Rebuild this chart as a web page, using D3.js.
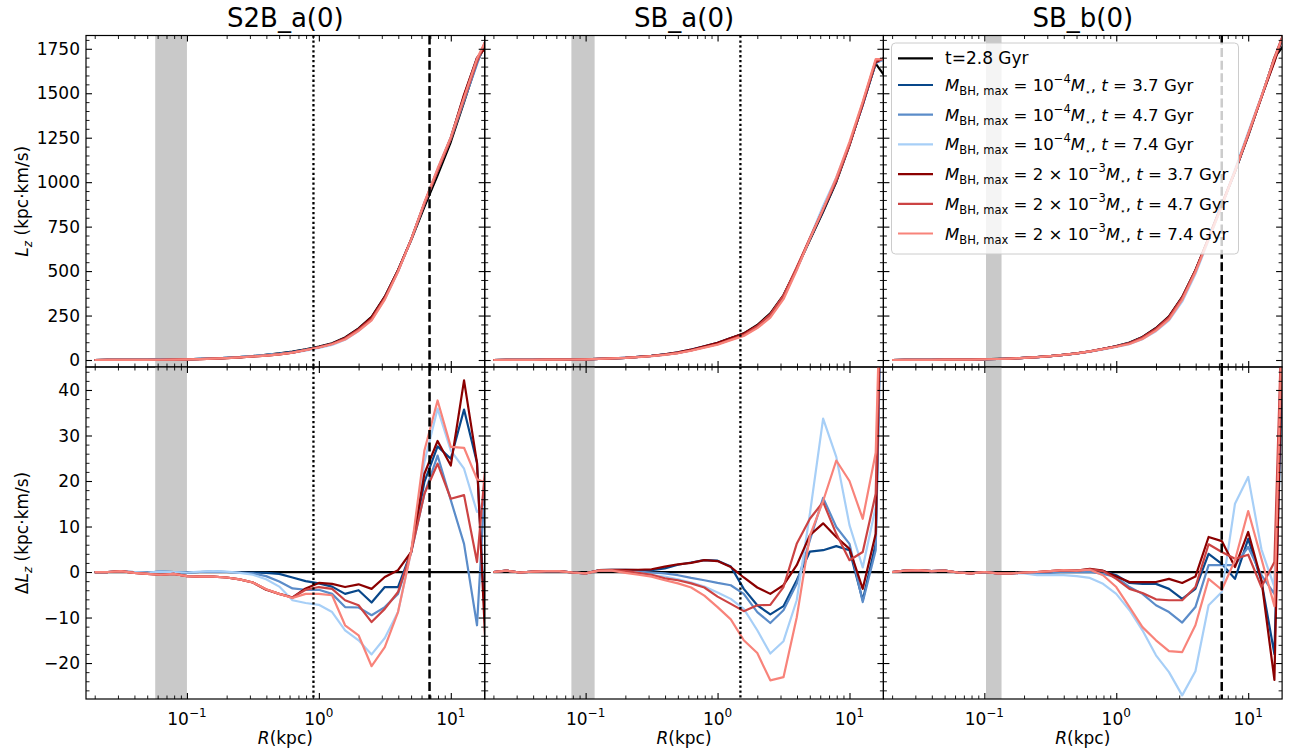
<!DOCTYPE html>
<html><head><meta charset="utf-8">
<script src="https://cdn.jsdelivr.net/npm/d3@7"></script>
<style>
body{margin:0;background:#fff}
text{font-family:"DejaVu Sans",sans-serif;fill:#000}
</style>
</head><body>
<svg id="chart" width="1296" height="751"></svg>
<script>
// ---------------- data ----------------
const radiusKpc = [0.02, 0.0251, 0.0316, 0.0398, 0.0501, 0.0631, 0.0794, 0.1, 0.126, 0.158, 0.2, 0.251, 0.316, 0.398, 0.501, 0.631, 0.794, 1.0, 1.26, 1.58, 2.0, 2.51, 3.16, 3.98, 5.01, 6.31, 7.94, 10.0, 12.6, 15.8, 20.0];

const panelTitles = ["S2B_a(0)", "SB_a(0)", "SB_b(0)"];
const baseLabel = "t=2.8 Gyr";
const seriesMassCoef = ["", "", "", "2 × ", "2 × ", "2 × "];
const seriesMassExp = ["−4", "−4", "−4", "−3", "−3", "−3"];
const seriesTime = ["3.7", "4.7", "7.4", "3.7", "4.7", "7.4"];
const seriesColors = ["#08478a", "#5b8cc9", "#a7cff7", "#8b0000", "#cc4343", "#f8837a"];
const baseColor = "#000000";

// L_z of the reference snapshot (t = 2.8 Gyr), kpc km/s
const lzBase_S2Ba = [0.2, 0.4, 0.6, 1.0, 1.5, 2.2, 3.0, 4.2, 6, 8.5, 12, 16, 22, 29, 37, 47, 60, 75, 94, 127, 178, 243, 356, 505, 674, 861, 1039, 1226, 1450, 1675, 1830];
const lzBase_SBa  = [0.2, 0.4, 0.6, 1.0, 1.5, 2.2, 3.0, 4.2, 6, 8.5, 12, 17, 23, 31, 41, 56, 75, 94, 122, 150, 197, 262, 365, 515, 674, 833, 1001, 1207, 1441, 1666, 1562];
const lzBase_SBb  = [0.2, 0.4, 0.6, 1.0, 1.5, 2.2, 3.0, 4.2, 6, 8.5, 12, 16, 22, 29, 37, 48, 62, 78, 98, 130, 180, 245, 355, 505, 680, 870, 1060, 1260, 1480, 1700, 1800];

// Delta L_z relative to t = 2.8 Gyr
const dLz_S2Ba_b37 = [0, 0, 0.1, 0, -0.1, 0.1, 0, -0.1, 0, 0.1, 0, -0.1, -0.1, -0.2, -0.4, -1.2, -2.0, -2.5, -3.2, -4.8, -4.0, -6.7, -3.3, -3.3, 4.5, 19.8, 27.6, 24.9, 35.7, 24.0, -35];
const dLz_S2Ba_b47 = [0, 0, 0.1, 0, -0.1, 0.1, 0, -0.1, 0, 0.1, 0, -0.1, -0.3, -0.9, -2.1, -3.6, -3.9, -3.9, -4.8, -7.7, -7.8, -9.5, -7.7, -4.8, 4.3, 17.2, 25.6, 15.8, 6.2, -11.7, 41];
const dLz_S2Ba_b74 = [0, 0, 0.1, 0, -0.1, 0.1, 0, -0.1, 0.1, 0.2, 0.1, -0.2, -0.6, -1.6, -3.2, -6.2, -6.8, -7.2, -8.8, -12.8, -15.0, -18.1, -14.5, -8.8, 4.5, 24.2, 35.9, 26.7, 22.7, 13.2, 15.4];
const dLz_S2Ba_r37 = [0, 0, 0.2, -0.2, -0.4, -0.6, -0.4, -0.9, -1.0, -1.0, -1.2, -1.6, -2.3, -3.9, -4.8, -5.6, -3.6, -2.4, -2.6, -3.3, -2.7, -3.7, -1.1, 0.4, 4.4, 21.6, 28.8, 23.4, 42.1, 24.0, -40];
const dLz_S2Ba_r47 = [0, 0, 0.2, -0.2, -0.4, -0.6, -0.4, -0.9, -1.0, -1.0, -1.2, -1.6, -2.3, -3.8, -4.8, -5.6, -3.9, -3.3, -3.7, -6.2, -7.3, -11.0, -8.1, -4.4, 4.4, 17.2, 23.8, 16.1, 16.9, 2.2, 36];
const dLz_S2Ba_r74 = [0, 0, 0.2, -0.2, -0.4, -0.6, -0.4, -0.9, -1.0, -1.0, -1.2, -1.6, -2.3, -3.8, -4.8, -5.7, -4.8, -4.8, -5.1, -11.7, -13.9, -20.7, -16.5, -8.8, 4.6, 26.7, 37.7, 27.5, 27.3, 20.4, 19.2];

const dLz_SBa_b37 = [0, 0.3, -0.1, 0.1, 0.2, 0.2, -0.1, -0.3, 0.4, 0.5, 0.5, 0.4, 0.4, 0.8, 1.6, 2.1, 2.6, 2.5, 1.2, -3.7, -7.3, -9.3, -7.5, -1.8, 4.5, 4.8, 5.7, 4.8, -6.2, 6.2, 150];
const dLz_SBa_b47 = [0, 0.3, -0.1, 0.1, 0.2, 0.2, -0.1, -0.3, 0.3, 0.4, 0.3, 0.1, -0.1, -0.3, -0.7, -1.3, -1.8, -2.4, -2.9, -4.8, -8.8, -11.2, -8.4, -2.6, 7.0, 16.3, 9.9, 6.2, -6.6, 4.8, 140];
const dLz_SBa_b74 = [0, 0.3, -0.1, 0.1, 0.2, 0.2, -0.1, -0.3, 0.3, 0.4, 0.2, -0.2, -0.7, -1.0, -1.6, -2.3, -3.2, -4.5, -5.9, -8.1, -12.8, -17.9, -15.2, -6.2, 12.8, 33.7, 25.3, 10.3, 1.0, 14.3, 130];
const dLz_SBa_r37 = [0, 0.3, -0.1, 0.1, 0.2, 0.2, -0.1, -0.3, 0.4, 0.5, 0.5, 0.5, 0.6, 1.2, 1.7, 2.0, 2.6, 2.4, 1.1, -1.2, -3.4, -4.8, -2.9, 1.5, 8.1, 10.7, 7.7, 5.1, -3.7, 8.4, 150];
const dLz_SBa_r47 = [0, 0.3, -0.1, 0.1, 0.2, 0.2, -0.1, -0.3, 0.3, 0.4, 0.2, -0.2, -0.6, -1.4, -1.8, -2.5, -3.4, -5.4, -7.0, -8.6, -7.3, -7.2, -3.3, 6.2, 11.7, 15.4, 8.4, 2.6, 4.4, 17.2, 140];
const dLz_SBa_r74 = [0, 0.3, -0.1, 0.1, 0.2, 0.2, -0.1, -0.3, 0.3, 0.3, -0.2, -0.6, -1.0, -1.8, -2.5, -3.4, -5.2, -7.7, -10.4, -15.0, -17.8, -23.8, -23.1, -10.0, 8.0, 15.6, 24.5, 20.0, 11.7, 26.2, 130];

const dLz_SBb_b37 = [0, 0.3, 0.4, 0.2, 0.3, -0.1, -0.3, 0, -0.3, -0.3, -0.1, -0.2, 0, 0.3, 0.3, 0.5, 0.2, -0.7, -2.4, -2.6, -2.6, -3.7, -5.9, -3.7, 4.0, 1.8, -1.5, 7.3, -2.0, -18, 90];
const dLz_SBb_b47 = [0, 0.3, 0.4, 0.2, 0.3, -0.1, -0.3, 0, -0.3, -0.3, -0.1, -0.3, -0.2, 0, 0, 0, -0.4, -1.1, -3.3, -4.8, -7.3, -8.8, -11.1, -7.7, 1.5, 1.5, 1.5, 5.5, -0.7, -4.8, 100];
const dLz_SBb_b74 = [0, 0.3, 0.4, 0.2, 0.3, -0.1, -0.3, 0, -0.3, -0.3, -0.3, -0.7, -0.7, -0.7, -0.9, -1.3, -2.6, -4.8, -8.4, -12.8, -18.3, -22.0, -27.1, -21.8, -7.3, -4.4, 15.0, 20.9, 5.0, -3.3, 100];
const dLz_SBb_r37 = [0, 0.3, 0.4, 0.2, 0.3, -0.1, -0.3, 0, -0.3, -0.3, -0.1, 0, 0.2, 0.4, 0.3, 0.7, 0.3, -1.0, -2.2, -2.2, -2.2, -1.5, -2.4, -1.0, 7.7, 6.8, 1.1, 8.8, -1.8, -23.7, 110];
const dLz_SBb_r47 = [0, 0.3, 0.4, 0.2, 0.3, -0.1, -0.3, 0, -0.3, -0.3, -0.1, 0, 0.2, 0.4, 0.3, 0.6, 0.2, -1.5, -3.7, -4.6, -6.0, -6.2, -6.2, -3.3, 6.1, 4.4, 2.9, 3.8, -3.3, 2.2, 100];
const dLz_SBb_r74 = [0, 0.3, 0.4, 0.2, 0.3, -0.1, -0.3, 0, -0.3, -0.3, -0.1, 0, 0.2, 0.4, 0.3, 0.5, -0.7, -3.3, -7.7, -12.1, -15.0, -17.4, -17.6, -11.7, -1.5, -3.9, 2.6, 13.4, 2.9, -7.5, 100];

// marker radii (kpc)
const bandLow  = [0.0575, 0.078, 0.103];
const bandHigh = [0.1, 0.117, 0.135];
const dottedR  = [0.91, 1.49, null];
const dashedR  = [6.9, null, 6.3];

// ticks
const xMajorTicks = [0.1, 1, 10];
const xMajorExp = ["−1", "0", "1"];
const lzTicks = [0, 250, 500, 750, 1000, 1250, 1500, 1750];
const dlzTicks = [-20, -10, 0, 10, 20, 30, 40];

// ---------------- layout ----------------
const svg = d3.select("#chart");
const panelX0 = 86, panelW = 398.7;
const topY0 = 35.5, topY1 = 367, botY0 = 367, botY1 = 699;
const fs = 17;

const xDomain = [0.01718, 18.07];
const yTop = d3.scaleLinear().domain([-39.3, 1824.7]).range([topY1, topY0]);
const yBot = d3.scaleLinear().domain([-27.9, 45.05]).range([botY1, botY0]);

const xMinorTicks = [];
[0.01, 0.1, 1, 10].forEach(d => { for (let m = 2; m <= 9; m++) { const v = m * d; if (v > xDomain[0] && v < xDomain[1]) xMinorTicks.push(v); } });
const lzMinor = d3.range(0, 1825, 50).filter(v => v % 250 !== 0);
const dlzMinor = d3.range(-26, 45, 2).filter(v => v % 10 !== 0);

const panels = [
  {base: lzBase_S2Ba, deltas: [dLz_S2Ba_b37, dLz_S2Ba_b47, dLz_S2Ba_b74, dLz_S2Ba_r37, dLz_S2Ba_r47, dLz_S2Ba_r74]},
  {base: lzBase_SBa,  deltas: [dLz_SBa_b37, dLz_SBa_b47, dLz_SBa_b74, dLz_SBa_r37, dLz_SBa_r47, dLz_SBa_r74]},
  {base: lzBase_SBb,  deltas: [dLz_SBb_b37, dLz_SBb_b47, dLz_SBb_b74, dLz_SBb_r37, dLz_SBb_r47, dLz_SBb_r74]}
];

const defs = svg.append("defs");
const LW = 2.2;

panels.forEach((p, k) => {
  const px0 = panelX0 + k * panelW, px1 = px0 + panelW;
  const x = d3.scaleLog().domain(xDomain).range([px0, px1]);

  [0, 1].forEach(row => {
    const y = row === 0 ? yTop : yBot;
    const y0 = row === 0 ? topY0 : botY0, y1 = row === 0 ? topY1 : botY1;
    const cid = `clip${k}${row}`;
    defs.append("clipPath").attr("id", cid).append("rect")
      .attr("x", px0).attr("y", y0).attr("width", panelW).attr("height", y1 - y0);
    const g = svg.append("g");
    const cg = g.append("g").attr("clip-path", `url(#${cid})`);

    // grey band
    cg.append("rect").attr("x", x(bandLow[k])).attr("width", x(bandHigh[k]) - x(bandLow[k]))
      .attr("y", y0).attr("height", y1 - y0).attr("fill", "#c9c9c9");

    // series
    const line = d3.line().x((d, i) => x(radiusKpc[i])).y(d => y(d));
    const baseVals = row === 0 ? p.base : p.base.map(() => 0);
    cg.append("path").attr("d", line(baseVals)).attr("fill", "none")
      .attr("stroke", baseColor).attr("stroke-width", LW).attr("stroke-linejoin", "round");
    p.deltas.forEach((dl, j) => {
      const vals = row === 0 ? dl.map((v, i) => p.base[i] + v) : dl;
      cg.append("path").attr("d", line(vals)).attr("fill", "none")
        .attr("stroke", seriesColors[j]).attr("stroke-width", LW).attr("stroke-linejoin", "round");
    });

    // vertical markers
    if (dottedR[k] != null) {
      cg.append("line").attr("x1", x(dottedR[k])).attr("x2", x(dottedR[k])).attr("y1", y0).attr("y2", y1)
        .attr("stroke", "#000").attr("stroke-width", 2.3).attr("stroke-dasharray", "2.3,2.6");
    }
    if (dashedR[k] != null) {
      cg.append("line").attr("x1", x(dashedR[k])).attr("x2", x(dashedR[k])).attr("y1", y0).attr("y2", y1)
        .attr("stroke", "#000").attr("stroke-width", 2.5).attr("stroke-dasharray", "9,3.6");
    }

    // axes (inward ticks on all four sides)
    const yMaj = row === 0 ? lzTicks : dlzTicks;
    const yMin = row === 0 ? lzMinor : dlzMinor;
    const axMaj = [
      [d3.axisBottom(x), `translate(0,${y1})`, xMajorTicks],
      [d3.axisTop(x), `translate(0,${y0})`, xMajorTicks],
      [d3.axisLeft(y), `translate(${px0},0)`, yMaj],
      [d3.axisRight(y), `translate(${px1},0)`, yMaj]
    ];
    axMaj.forEach(([a, tr, maj]) => {
      const gm = g.append("g").attr("transform", tr)
        .call(a.tickValues(maj).tickSizeInner(-6).tickSizeOuter(0).tickFormat(() => ""));
      gm.select(".domain").remove();
      gm.selectAll(".tick line").attr("stroke", "#000").attr("stroke-width", 1.1);
    });
    const axMin = [
      [d3.axisBottom(x), `translate(0,${y1})`, xMinorTicks],
      [d3.axisTop(x), `translate(0,${y0})`, xMinorTicks],
      [d3.axisLeft(y), `translate(${px0},0)`, yMin],
      [d3.axisRight(y), `translate(${px1},0)`, yMin]
    ];
    axMin.forEach(([a, tr, min]) => {
      const gm = g.append("g").attr("transform", tr)
        .call(a.tickValues(min).tickSizeInner(-3.5).tickSizeOuter(0).tickFormat(() => ""));
      gm.select(".domain").remove();
      gm.selectAll(".tick line").attr("stroke", "#000").attr("stroke-width", 0.9);
    });
    g.selectAll("text").remove();

    // frame
    g.append("rect").attr("x", px0).attr("y", y0).attr("width", panelW).attr("height", y1 - y0)
      .attr("fill", "none").attr("stroke", "#000").attr("stroke-width", 1.2);

    // y tick labels (left column only)
    if (k === 0) {
      yMaj.forEach(v => {
        svg.append("text").attr("x", px0 - 6).attr("y", y(v)).attr("dy", "0.36em")
          .attr("text-anchor", "end").attr("font-size", fs)
          .text(v < 0 ? "−" + Math.abs(v) : String(v));
      });
    }
    // x tick labels (bottom row only)
    if (row === 1) {
      xMajorTicks.forEach((v, i) => {
        const t = svg.append("text").attr("x", x(v)).attr("y", 725).attr("text-anchor", "middle").attr("font-size", fs);
        t.append("tspan").text("10");
        t.append("tspan").attr("dy", -8).attr("font-size", 12).text(xMajorExp[i]);
      });
      const xl = svg.append("text").attr("x", (px0 + px1) / 2).attr("y", 744).attr("text-anchor", "middle").attr("font-size", fs);
      xl.append("tspan").attr("font-style", "italic").text("R");
      xl.append("tspan").text("(kpc)");
    }
  });

  // panel title
  svg.append("text").attr("x", px0 + panelW / 2).attr("y", 27).attr("text-anchor", "middle")
    .attr("font-size", 26).text(panelTitles[k]);
});

// y-axis labels
function yLabel(cy, delta) {
  const t = svg.append("text").attr("transform", `translate(28,${cy}) rotate(-90)`)
    .attr("text-anchor", "middle").attr("font-size", fs);
  if (delta) t.append("tspan").text("Δ");
  t.append("tspan").attr("font-style", "italic").text("L");
  t.append("tspan").attr("font-style", "italic").attr("font-size", 12).attr("dy", 4).text("z");
  t.append("tspan").attr("dy", -4).text(" (kpc·km/s)");
}
yLabel((topY0 + topY1) / 2, false);
yLabel((botY0 + botY1) / 2, true);

// legend
const lg = svg.append("g");
lg.append("rect").attr("x", 891.5).attr("y", 43).attr("width", 347).attr("height", 211).attr("rx", 4)
  .attr("fill", "#fff").attr("fill-opacity", 0.8).attr("stroke", "#cccccc").attr("stroke-width", 1);
const rowY = [58.3, 85, 114.7, 144.4, 174.1, 203.8, 233.5];
const legendColors = [baseColor].concat(seriesColors);
const lfs = 16.6;
rowY.forEach((ry, j) => {
  lg.append("line").attr("x1", 898).attr("x2", 933).attr("y1", ry).attr("y2", ry)
    .attr("stroke", legendColors[j]).attr("stroke-width", LW);
  const t = lg.append("text").attr("x", 945).attr("y", ry + 6).attr("font-size", lfs);
  if (j === 0) { t.attr("font-size", 17).text(baseLabel); return; }
  const s = j - 1;
  t.append("tspan").attr("font-style", "italic").text("M");
  t.append("tspan").attr("font-size", 11.5).attr("dy", 4).text("BH, max");
  t.append("tspan").attr("dy", -4).text(" = " + seriesMassCoef[s] + "10");
  t.append("tspan").attr("font-size", 11.5).attr("dy", -8).text(seriesMassExp[s]);
  t.append("tspan").attr("font-style", "italic").attr("dy", 8).text("M");
  t.append("tspan").attr("font-size", 9).attr("dy", 4).text("⋆");
  t.append("tspan").attr("dy", -4).text(", ");
  t.append("tspan").attr("font-style", "italic").text("t");
  t.append("tspan").text(" = " + seriesTime[s] + " Gyr");
});
</script>
</body></html>
